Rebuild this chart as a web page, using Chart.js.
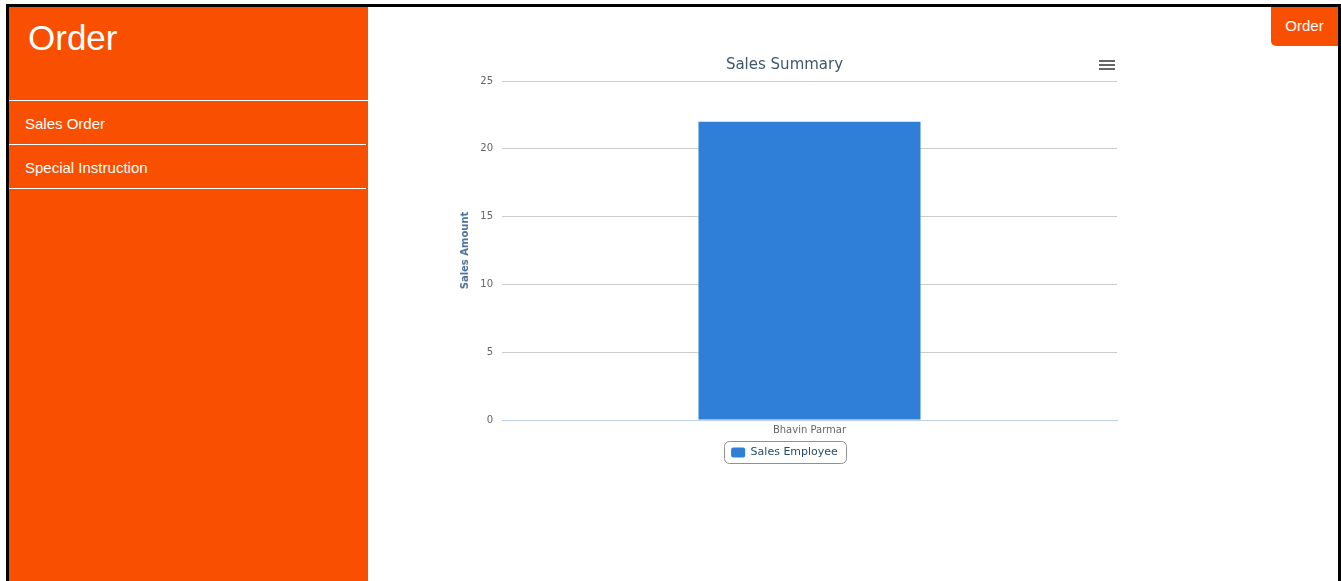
<!DOCTYPE html>
<html>
<head>
<meta charset="utf-8">
<title>Order</title>
<script src="https://cdn.jsdelivr.net/npm/chart.js@4/dist/chart.umd.min.js"></script>
<style>
    html, body { margin: 0; padding: 0; background: #fff; overflow: hidden; }
    body { width: 1341px; height: 581px; position: relative; font-family: "Liberation Sans", Arial, sans-serif; }
    .frame {
        position: absolute; left: 6px; top: 4px; width: 1329px; height: 600px;
        border: 3px solid #000; border-bottom: none; background: #fff;
    }
    .sidebar {
        position: absolute; left: 0; top: 0; width: 359px; height: 100%;
        background: #f94f00; color: #fff;
    }
    .sidebar h1 {
        margin: 0; position: absolute; left: 19px; top: 11px;
        font-weight: normal; font-size: 35px;
    }
    .sidebar ul { list-style: none; margin: 0; padding: 0; position: absolute; top: 93px; left: 0; width: 359px; }
    .sidebar li {
        height: 43px; line-height: 45px; padding-left: 16px; font-size: 15px;
        border-top: 1px solid #fff;
    }
    .sidebar li:last-child { border-bottom: 1px solid #fff; }
    .sidebar li + li { margin-right: 2px; }
    .order-btn {
        position: absolute; right: 0; top: 0; width: 67px; height: 39px;
        background: #f94f00; color: #fff; font-size: 15px; text-align: center;
        line-height: 38px; border-bottom-left-radius: 5px;
    }
    #chart-wrap { position: absolute; left: 380px; top: 42px; width: 800px; height: 440px; }
</style>
</head>
<body>
<div class="frame">
    <div class="sidebar">
        <h1>Order</h1>
        <ul>
            <li>Sales Order</li>
            <li>Special Instruction</li>
        </ul>
    </div>
    <div class="order-btn">Order</div>
</div>
<div id="chart-wrap"><canvas id="salesChart" width="800" height="440"></canvas></div>

<script>
// 圖表資料
const employees = ['Bhavin Parmar'];
const salesAmounts = [22];
const seriesName = 'Sales Employee';
const yTicks = [0, 5, 10, 15, 20, 25];

const chartFont = 'DejaVu Sans, Verdana, sans-serif';

// 右上角選單圖示 + 圖例外框
const decorations = {
    id: 'decorations',
    afterDraw(chart) {
        const ctx = chart.ctx;
        ctx.save();
        // 選單圖示
        ctx.strokeStyle = '#666';
        ctx.lineWidth = 2;
        [19, 23, 27].forEach(y => {
            ctx.beginPath();
            ctx.moveTo(719, y);
            ctx.lineTo(735, y);
            ctx.stroke();
        });
        // 圖例外框
        const boxes = chart.legend.legendHitBoxes;
        if (boxes && boxes.length) {
            const b = boxes[0];
            ctx.strokeStyle = '#909090';
            ctx.lineWidth = 1;
            ctx.beginPath();
            ctx.roundRect(Math.round(b.left - 7) + 0.5, Math.round(b.top + b.height / 2 - 12) + 0.5, Math.round(b.width + 15), 22, 5);
            ctx.stroke();
        }
        ctx.restore();
    }
};

new Chart(document.getElementById('salesChart'), {
    type: 'bar',
    data: {
        labels: employees,
        datasets: [{
            label: seriesName,
            data: salesAmounts,
            backgroundColor: '#2f7ed8',
            barPercentage: 0.361,
            categoryPercentage: 1
        }]
    },
    options: {
        responsive: false,
        animation: false,
        layout: { padding: { left: 72, right: 63, top: 0, bottom: 14 } },
        plugins: {
            title: {
                display: true,
                text: 'Sales Summary',
                color: '#3e576f',
                font: { family: chartFont, size: 15, weight: 'normal' },
                padding: { top: 14, bottom: 7 }
            },
            legend: {
                position: 'bottom',
                labels: {
                    color: '#274b6d',
                    font: { family: chartFont, size: 11 },
                    boxWidth: 14,
                    boxHeight: 10,
                    useBorderRadius: true,
                    borderRadius: 2,
                    padding: 7
                }
            },
            tooltip: { enabled: false }
        },
        scales: {
            x: {
                grid: { display: false, drawTicks: false },
                border: { color: '#c0d0e0' },
                ticks: { color: '#666', font: { family: chartFont, size: 10 }, padding: 4 },
                afterFit(scale) { scale.height = 20; }
            },
            y: {
                min: 0,
                max: 25,
                afterBuildTicks(scale) { scale.ticks = yTicks.map(v => ({ value: v })); },
                grid: { color: '#cccccc', drawTicks: false },
                border: { display: false },
                ticks: { color: '#666', font: { family: chartFont, size: 10 }, padding: 9 },
                title: {
                    display: true,
                    text: 'Sales Amount',
                    color: '#4d759e',
                    font: { family: chartFont, size: 10, weight: 'bold' },
                    padding: { top: 7, bottom: 0 }
                },
                afterFit(scale) { scale.width = 50; }
            }
        }
    },
    plugins: [decorations]
});
</script>
</body>
</html>
